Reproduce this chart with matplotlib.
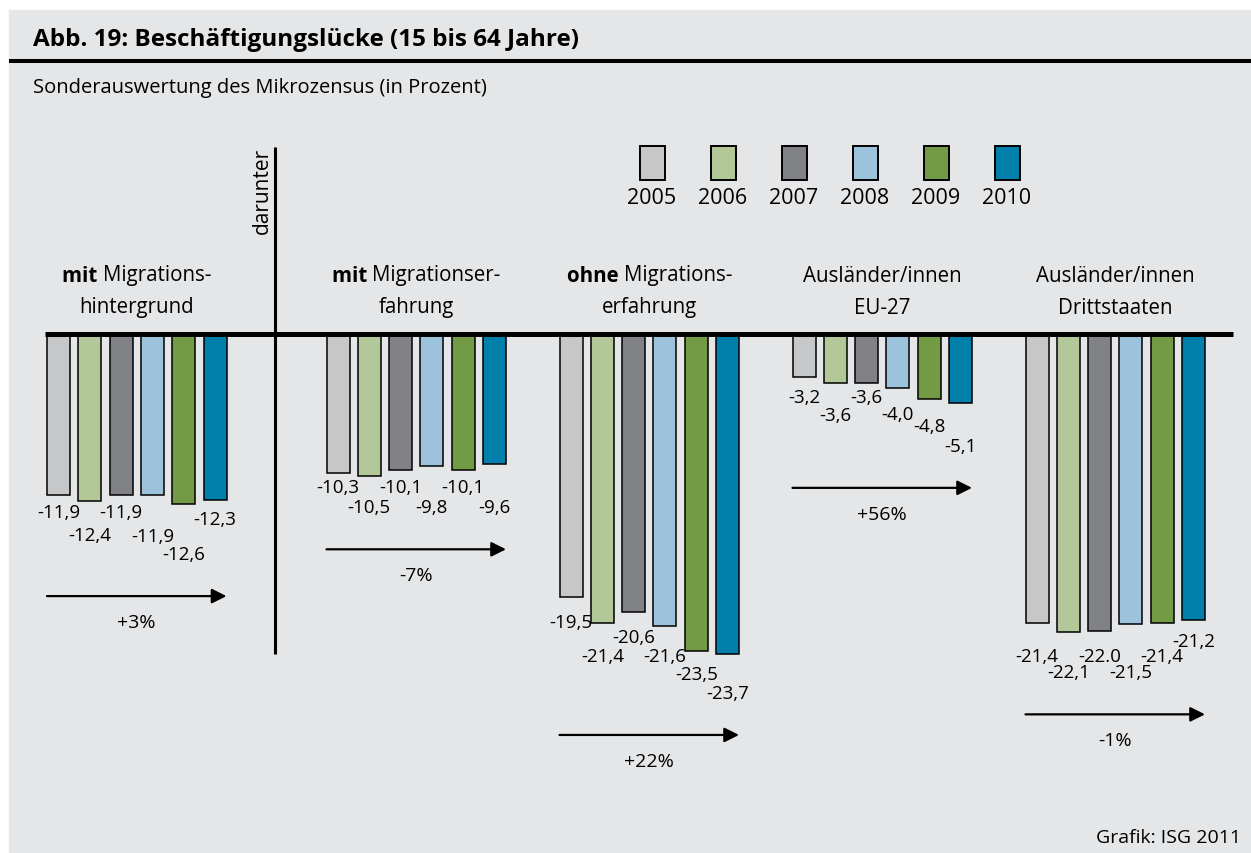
import matplotlib.pyplot as plt
from matplotlib.patches import Rectangle

plt.rcParams['font.family'] = ['Open Sans', 'DejaVu Sans']

# data
years = ["2005", "2006", "2007", "2008", "2009", "2010"]
colors = ["#c6c7c9", "#b3c898", "#808285", "#9dc3dc", "#739a44", "#0080ab"]

groups_bold = ["mit", "mit", "ohne", "", ""]
groups_line1 = ["Migrations-", "Migrationser-", "Migrations-", "Ausländer/innen", "Ausländer/innen"]
groups_line2 = ["hintergrund", "fahrung", "erfahrung", "EU-27", "Drittstaaten"]

values = [
    [-11.9, -12.4, -11.9, -11.9, -12.6, -12.3],
    [-10.3, -10.5, -10.1, -9.8, -10.1, -9.6],
    [-19.5, -21.4, -20.6, -21.6, -23.5, -23.7],
    [-3.2, -3.6, -3.6, -4.0, -4.8, -5.1],
    [-21.4, -22.1, -22.0, -21.5, -21.4, -21.2],
]
changes = ["+3%", "-7%", "+22%", "+56%", "-1%"]

# label drop below bar end (pixels), hand-staggered like the original
label_drop = [
    [17, 34, 17, 41, 50, 19],
    [14, 31, 17, 41, 17, 43],
    [25, 33, 25, 30, 23, 39],
    [20, 32, 14, 26, 27, 43],
    [33, 40, 25, 48, 33, 21],
]

W, H = 1251, 854
BASE = 335      # pixel row of the zero line
PPU = 13.5      # pixels per percent


def py(p):
    # pixel row -> data y
    return (BASE - p) / PPU


def fmt(v):
    s = f"{v:.1f}"
    return s if v == -22.0 else s.replace(".", ",")


fig = plt.figure(figsize=(W / 100, H / 100), dpi=100)
ax = fig.add_axes([0, 0, 1, 1])
ax.set_xlim(0, W)
ax.set_ylim(py(H), py(0))
ax.axis("off")

ax.add_patch(Rectangle((9, py(H)), W - 9, py(11) - py(H), color="#e5e6e8", zorder=0))

# title + subtitle
ax.text(33, py(40), "Abb. 19: Beschäftigungslücke (15 bis 64 Jahre)", fontsize=17.5,
        fontweight="bold", va="center", ha="left")
ax.plot([9, W], [py(62), py(62)], color="black", lw=2.9, solid_capstyle="butt")
ax.text(33, py(88), "Sonderauswertung des Mikrozensus (in Prozent)", fontsize=14.5,
        va="center", ha="left")

# legend
for i, (yr, c) in enumerate(zip(years, colors)):
    cx = 652 + 71 * i
    ax.add_patch(Rectangle((cx - 12.5, py(181)), 25, py(147) - py(181), facecolor=c,
                           edgecolor="black", lw=1.4, zorder=3))
    ax.text(cx, py(198), yr, fontsize=15.5, ha="center", va="center")

# bars
bar_w = 23
step = 31.3
fig.canvas.draw()
renderer = fig.canvas.get_renderer()
for g, vals in enumerate(values):
    x0 = 58.5 + 233 * g + (46.5 if g > 0 else 0)
    xs = [x0 + step * i for i in range(len(vals))]
    ax.bar(xs, vals, width=bar_w, color=colors, edgecolor="black", lw=1.1, zorder=2)
    lowest = 0
    for x, v, d in zip(xs, vals, label_drop[g]):
        yl = BASE - v * PPU + d
        lowest = max(lowest, yl)
        ax.text(x, py(yl), fmt(v), fontsize=13.5, ha="center", va="center")
    # trend arrow
    ya = lowest + 42
    ax.annotate("", xy=(xs[-1] + bar_w / 2, py(ya)), xytext=(xs[0] - bar_w / 2, py(ya)),
                arrowprops=dict(arrowstyle="-|>", color="black", lw=1.6, mutation_scale=22,
                                shrinkA=0, shrinkB=0))
    cx = (xs[0] + xs[-1]) / 2
    ax.text(cx, py(ya + 26), changes[g], fontsize=14, ha="center", va="center")

    # header, first part may be bold
    if groups_bold[g]:
        tb = ax.text(0, py(276), groups_bold[g] + " ", fontsize=14.8, fontweight="bold",
                     ha="left", va="center")
        tr = ax.text(0, py(276), groups_line1[g], fontsize=14.8, ha="left", va="center")
        wb = tb.get_window_extent(renderer).width
        wr = tr.get_window_extent(renderer).width
        # 1 data unit = 1 px in x
        start = cx - (wb + wr) / 2
        tb.set_x(start)
        tr.set_x(start + wb)
    else:
        ax.text(cx, py(276), groups_line1[g], fontsize=14.8, ha="center", va="center")
    ax.text(cx, py(308), groups_line2[g], fontsize=14.8, ha="center", va="center")

# zero line and divider
ax.plot([45, 1233], [0, 0], color="black", lw=3.6, solid_capstyle="butt", zorder=4)
ax.plot([275, 275], [py(148), py(655)], color="black", lw=2.2, solid_capstyle="butt", zorder=4)
ax.text(262, py(148), "darunter", fontsize=15, rotation=90, ha="center", va="top")

ax.text(1241, py(838), "Grafik: ISG 2011", fontsize=14, ha="right", va="center")

fig.savefig("out.png", dpi=100)
